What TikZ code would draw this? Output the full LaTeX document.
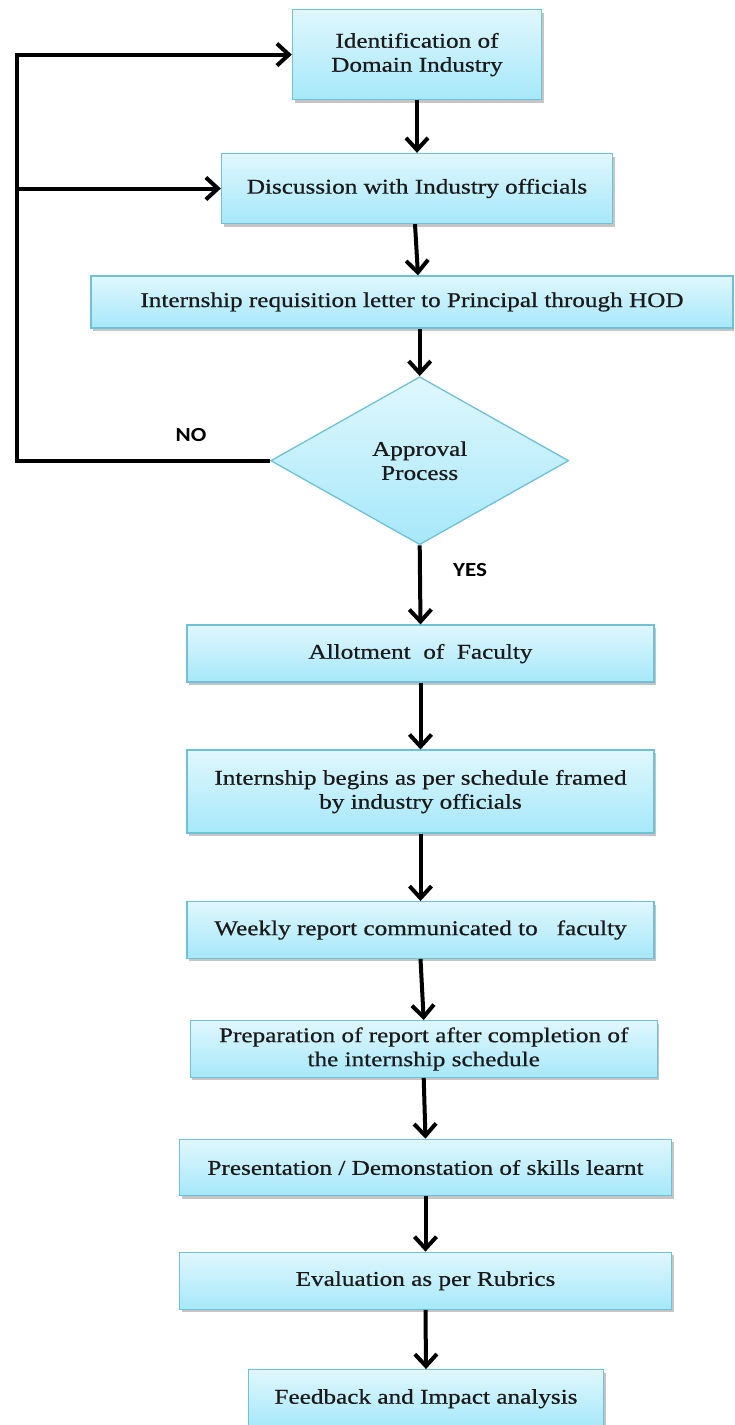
\documentclass[tikz,border=0pt]{standalone}
\usepackage{fontspec}
\setmainfont{Liberation Serif}[FakeStretch=1.2,FakeBold=0.6]
\newfontfamily\lblfont{Carlito}[FakeStretch=1.15]
\usetikzlibrary{arrows.meta,shapes.geometric,shadows}
\definecolor{boxtop}{HTML}{E0F7FD}
\definecolor{boxbot}{HTML}{A6E8FA}
\definecolor{boxedge}{HTML}{6EC1D6}
\definecolor{txt}{HTML}{1A1A1A}
\begin{document}
\begin{tikzpicture}[x=1pt,y=-1pt,
  font=\fontsize{21}{24}\selectfont,
  proc/.style={draw=boxedge, line width=1.3pt, top color=boxtop, bottom color=boxbot,
    align=center, inner sep=0pt, text=txt,
    drop shadow={shadow xshift=2pt, shadow yshift=-3pt, fill=black!45, opacity=0.5}},
  decide/.style={shape=diamond, draw=boxedge, line width=1.3pt, top color=boxtop, bottom color=boxbot,
    align=center, inner sep=0pt, text=txt},
  arr/.style={line width=4pt, line join=miter, -{Straight Barb[length=12pt,width=22pt,line width=4pt]}},
  lbl/.style={font=\lblfont\bfseries\fontsize{20}{22}\selectfont}]
\useasboundingbox (0,0) rectangle (734,1425);
\begin{scope}
\clip (0,0) rectangle (734,1425);
\node[proc, minimum width=249pt, minimum height=90pt] (b1) at (417,54.6) {Identification of\\Domain Industry};
\node[proc, minimum width=391pt, minimum height=70pt] (b2) at (417,188.5) {Discussion with Industry officials};
\node[proc, minimum width=642pt, minimum height=52pt] (b3) at (412,302) {Internship requisition letter to Principal through HOD};
\node[decide, minimum width=298pt, minimum height=168pt] (d) at (419.7,460.7) {Approval\\Process};
\node[proc, minimum width=467pt, minimum height=57pt] (b5) at (420.5,653.6) {Allotment\ \ of\ \ Faculty};
\node[proc, minimum width=467pt, minimum height=83pt] (b6) at (420.5,791.6) {Internship begins as per schedule framed\\by industry officials};
\node[proc, minimum width=467pt, minimum height=56.6pt] (b7) at (420.5,930) {Weekly report communicated to\ \ \ faculty};
\node[proc, minimum width=467pt, minimum height=56.6pt] (b8) at (423.7,1049) {Preparation of report after completion of\\the internship schedule};
\node[proc, minimum width=492pt, minimum height=56.4pt] (b9) at (425.5,1167.5) {Presentation / Demonstation of skills learnt};
\node[proc, minimum width=492pt, minimum height=57pt] (b10) at (425.5,1280.8) {Evaluation as per Rubrics};
\node[proc, minimum width=355pt, minimum height=58pt] (b11) at (426,1398.7) {Feedback and Impact analysis};
\end{scope}
\coordinate (lx) at (17,0);
\draw[arr] (b1.south) -- (b2.north);
\draw[arr] ([xshift=-2pt]b2.south) -- ([xshift=1pt]b2.south |- b3.north);
\draw[arr] (d.north |- b3.south) -- (d.north);
\draw[arr] (d.south) -- (b5.north);
\draw[arr] (b5.south) -- (b6.north);
\draw[arr] (b6.south) -- (b7.north);
\draw[arr] (b7.south) -- (b8.north);
\draw[arr] (b8.south) -- (b9.north);
\draw[arr] (b9.south) -- (b10.north);
\draw[arr] (b10.south) -- (b11.north);
\draw[arr] (d.west) -- (d.west -| lx) |- (b1.west);
\draw[arr] (b2.west -| lx) -- (b2.west);
\node[lbl] (no) at (191,435) {NO};
\node[lbl] (yes) at (470,570) {YES};
\end{tikzpicture}
\end{document}
